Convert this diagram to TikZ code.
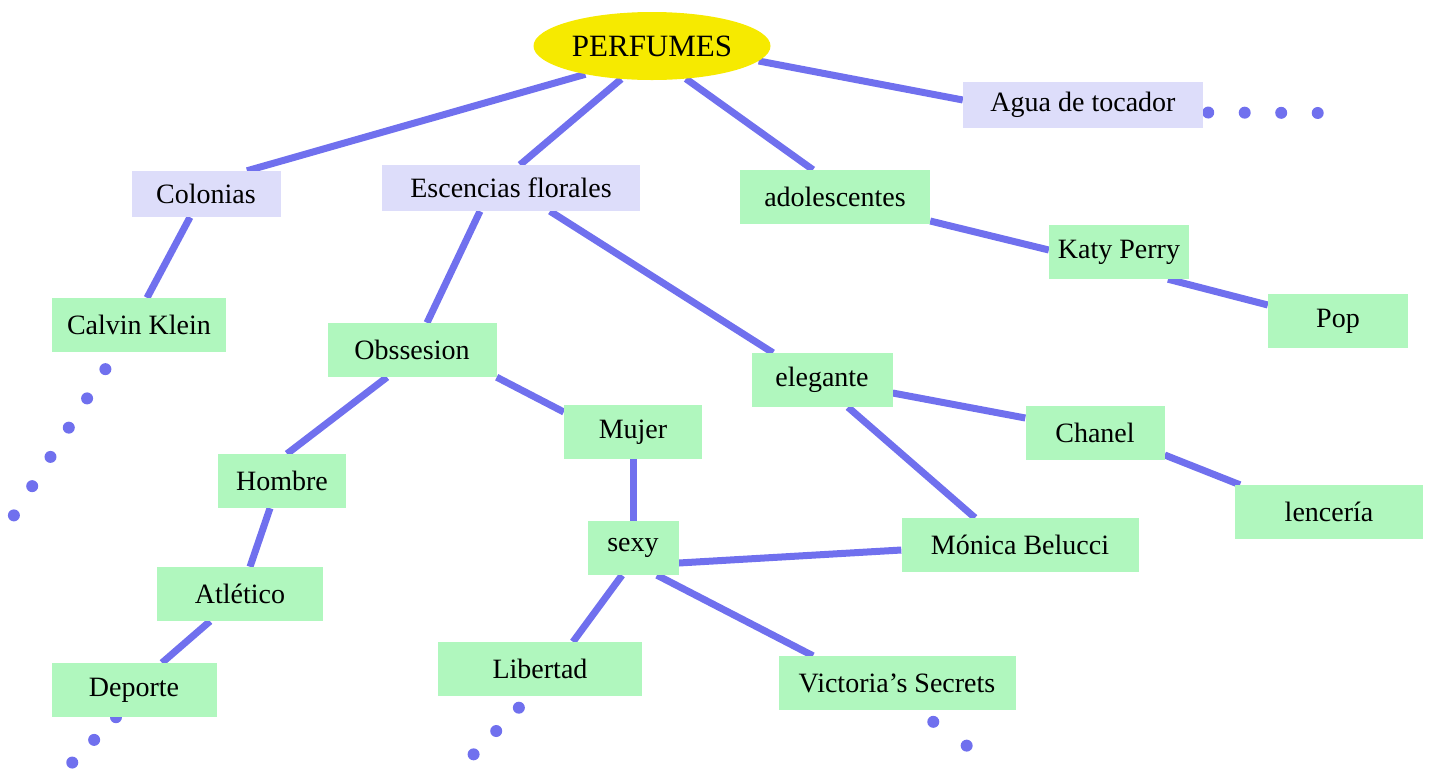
\documentclass[tikz,border=0pt]{standalone}
\usepackage{fontspec}
\setmainfont{Liberation Serif}
\usetikzlibrary{positioning, shapes.geometric, backgrounds}
\definecolor{rootyellow}{RGB}{246,234,0}
\definecolor{leafgreen}{RGB}{176,247,190}
\definecolor{branchlilac}{RGB}{221,221,250}
\definecolor{linkblue}{RGB}{112,112,238}
\tikzstyle{root} = [ellipse, minimum width=237pt, minimum height=68pt, inner sep=0pt, text centered, fill=rootyellow, font=\fontsize{31}{34}\selectfont]
\tikzstyle{branch} = [rectangle, minimum height=46pt, text centered, fill=branchlilac, font=\fontsize{28}{32}\selectfont]
\tikzstyle{leaf} = [rectangle, minimum height=54pt, text centered, fill=leafgreen, font=\fontsize{28}{32}\selectfont]
\tikzstyle{link} = [line width=7pt, draw=linkblue]
\tikzset{trail/.style={line width=12pt, draw=linkblue, line cap=round, dash pattern=on 0pt off #1}}

\begin{document}
\begin{tikzpicture}[x=1pt, y=-1pt]
            \useasboundingbox (0,0) rectangle (1429,772);

            \node (perfumes) [root] at (652,46) {PERFUMES};
            \node (agua) [branch, minimum width=240pt] at (1083,105) {Agua de tocador};
            \node (colonias) [branch, minimum width=149pt] at (206,194) {Colonias};
            \node (escencias) [branch, minimum width=258pt] at (511,188) {Escencias florales};
            \node (adolescentes) [leaf, minimum width=190pt] at (835,197) {adolescentes};
            \node (katy) [leaf, minimum width=140pt] at (1119,252) {Katy Perry};
            \node (pop) [leaf, minimum width=140pt] at (1338,321) {Pop};
            \node (calvin) [leaf, minimum width=174pt] at (139,325) {Calvin Klein};
            \node (obsesion) [leaf, minimum width=169pt] at (412,350) {Obssesion};
            \node (elegante) [leaf, minimum width=141pt] at (822,380) {elegante};
            \node (mujer) [leaf, minimum width=138pt] at (633,432) {Mujer};
            \node (chanel) [leaf, minimum width=139pt] at (1095,433) {Chanel};
            \node (hombre) [leaf, minimum width=128pt] at (282,481) {Hombre};
            \node (lenceria) [leaf, minimum width=188pt] at (1329,512) {lencería};
            \node (sexy) [leaf, minimum width=91pt] at (633,548) {sexy};
            \node (monica) [leaf, minimum width=237pt] at (1020,545) {Mónica Belucci};
            \node (atletico) [leaf, minimum width=166pt] at (240,594) {Atlético};
            \node (libertad) [leaf, minimum width=204pt] at (540,669) {Libertad};
            \node (victoria) [leaf, minimum width=237pt] at (897,683) {Victoria’s Secrets};
            \node (deporte) [leaf, minimum width=165pt] at (134,690) {Deporte};

            % loose ends of the dotted trails
            \coordinate (aguaend) at (1322,113);
            \coordinate (calvinend) at (11,520);
            \coordinate (deporteend) at (67,768);
            \coordinate (libertadend) at (471,757);
            \coordinate (victoriaend) at (970,748);

            \begin{scope}[on background layer]
            \draw [link] (perfumes.203) -- ([xshift=41pt]colonias.north);
            \draw [link] (perfumes.227) -- ([xshift=9pt]escencias.north);
            \draw [link] (perfumes.316) -- ([xshift=-22pt]adolescentes.north);
            \draw [link] (perfumes.352) -- ([yshift=5pt]agua.west);
            \draw [link] ([xshift=-16pt]colonias.south) -- ([xshift=8pt]calvin.north);
            \draw [link] ([xshift=-31pt]escencias.south) -- ([xshift=15pt]obsesion.north);
            \draw [link] ([xshift=39pt]escencias.south) -- ([xshift=-49pt]elegante.north);
            \draw [link] ([yshift=-24pt]adolescentes.east) -- ([yshift=2pt]katy.west);
            \draw [link] ([xshift=49pt]katy.south) -- ([yshift=16pt]pop.west);
            \draw [link] ([xshift=-25pt]obsesion.south) -- ([xshift=5pt]hombre.north);
            \draw [link] (obsesion.south east) -- ([yshift=20pt]mujer.west);
            \draw [link] ([yshift=-13pt]elegante.east) -- ([yshift=15pt]chanel.west);
            \draw [link] ([xshift=26pt]elegante.south) -- ([xshift=-45pt]monica.north);
            \draw [link] ([yshift=-22pt]chanel.east) -- ([xshift=-89pt]lenceria.north);
            \draw [link] (mujer) -- (sexy);
            \draw [link] ([yshift=-15pt]sexy.east) -- ([yshift=-5pt]monica.west);
            \draw [link] ([xshift=-11pt]sexy.south) -- ([xshift=33pt]libertad.north);
            \draw [link] ([xshift=24pt]sexy.south) -- ([xshift=-84pt]victoria.north);
            \draw [link] ([xshift=-12pt]hombre.south) -- ([xshift=10pt]atletico.north);
            \draw [link] ([xshift=-30pt]atletico.south) -- ([xshift=28pt]deporte.north);

            \draw [trail=36.5pt, shorten <=5pt] ([yshift=-7.5pt]agua.east) -- (aguaend);
            \draw [trail=34.5pt, shorten <=20pt] ([xshift=-23pt]calvin.south) -- (calvinend);
            \draw [trail=31.5pt] ([xshift=-18pt]deporte.south) -- (deporteend);
            \draw [trail=32.5pt, shorten <=16pt] ([xshift=-10pt]libertad.south) -- (libertadend);
            \draw [trail=41pt, shorten <=20pt] ([xshift=20pt]victoria.south) -- (victoriaend);
            \end{scope}

\end{tikzpicture}
\end{document}
